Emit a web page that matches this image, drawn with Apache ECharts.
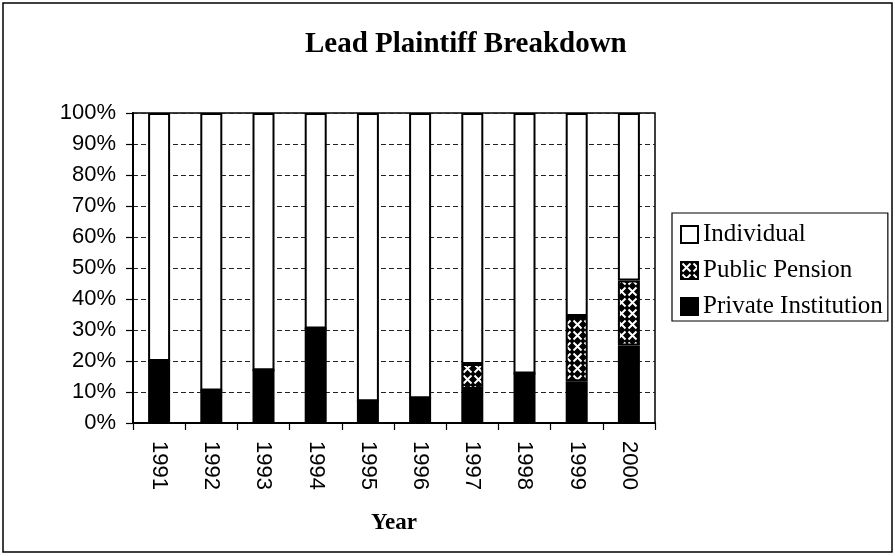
<!DOCTYPE html>
<html>
<head>
<meta charset="utf-8">
<style>
  html, body { margin: 0; padding: 0; background: #fff; }
  #chart { width: 895px; height: 556px; }
</style>
<script src="https://cdn.jsdelivr.net/npm/echarts@6/dist/echarts.min.js"></script>
</head>
<body>
<div id="chart"></div>
<script>
// ---- data ----
const years = ['1991','1992','1993','1994','1995','1996','1997','1998','1999','2000'];
const privateInstitution = [20, 10.5, 17, 30.5, 7, 8, 11, 16, 13.5, 25];
const publicPension = [0, 0, 0, 0, 0, 0, 8, 0, 21, 21];
const individual = years.map((_, i) => +(100 - privateInstitution[i] - publicPension[i]).toFixed(1));
const yTickFormat = '{value}%';

function makePattern() {
  const c = document.createElement('canvas');
  c.width = 11; c.height = 11;
  const g = c.getContext('2d');
  g.fillStyle = '#000';
  g.fillRect(0, 0, 11, 11);
  g.strokeStyle = '#fff';
  g.lineWidth = 2;
  g.beginPath();
  g.moveTo(1.5, 1.5); g.lineTo(9.5, 9.5);
  g.moveTo(9.5, 1.5); g.lineTo(1.5, 9.5);
  g.stroke();
  return c;
}
const hatch = { image: makePattern(), repeat: 'repeat' };

const chart = echarts.init(document.getElementById('chart'), null, { renderer: 'canvas' });
const serif = 'Liberation Serif, Times New Roman, serif';
const sans = 'Liberation Sans, Arial, sans-serif';

const barCommon = {
  type: 'bar',
  stack: 'total',
  barWidth: 22,
  animation: false
};

chart.setOption({
  animation: false,
  backgroundColor: '#fff',
  title: {
    text: 'Lead Plaintiff Breakdown',
    left: 305,
    top: 30,
    padding: 0,
    textStyle: { fontFamily: serif, fontWeight: 'bold', fontSize: 29, color: '#000' }
  },
  graphic: [{
    type: 'rect',
    shape: { x: 3, y: 3, width: 889, height: 549 },
    style: { fill: 'none', stroke: '#000', lineWidth: 1.5 },
    silent: true,
    z: -1
  }],
  legend: {
    orient: 'vertical',
    left: 672,
    top: 213,
    padding: [9, 5, 2, 8],
    itemGap: 11,
    itemWidth: 17,
    itemHeight: 17,
    borderColor: '#000',
    borderWidth: 1.2,
    icon: 'rect',
    data: ['Individual', 'Public Pension', 'Private Institution'],
    textStyle: { fontFamily: serif, fontSize: 25, color: '#000', lineHeight: 25 }
  },
  grid: {
    left: 133, top: 113, right: 240, bottom: 133,
    show: true, borderColor: '#000', borderWidth: 1.5,
    containLabel: false
  },
  xAxis: {
    type: 'category',
    data: years,
    name: 'Year',
    nameLocation: 'middle',
    nameGap: 89,
    nameTextStyle: { fontFamily: serif, fontWeight: 'bold', fontSize: 23, color: '#000' },
    axisLine: { lineStyle: { color: '#000', width: 2 } },
    axisTick: { show: true, length: 7, lineStyle: { color: '#000', width: 1.2 } },
    axisLabel: { rotate: -90, margin: 18, fontFamily: sans, fontSize: 22, color: '#000' },
    splitLine: { show: false }
  },
  yAxis: {
    type: 'value',
    min: 0, max: 100, interval: 10,
    axisLine: { show: true, lineStyle: { color: '#000', width: 2 } },
    axisTick: { show: true, length: 7, lineStyle: { color: '#000', width: 1.2 } },
    axisLabel: { formatter: yTickFormat, margin: 17, fontFamily: sans, fontSize: 22, color: '#000' },
    splitLine: { show: true, lineStyle: { color: '#222', width: 1, type: [5, 3] } }
  },
  series: [
    Object.assign({}, barCommon, {
      name: 'Private Institution',
      data: privateInstitution,
      itemStyle: { color: '#000', borderColor: '#000', borderWidth: 2 }
    }),
    Object.assign({}, barCommon, {
      name: 'Public Pension',
      data: publicPension,
      itemStyle: { color: hatch, borderColor: '#000', borderWidth: 2 }
    }),
    Object.assign({}, barCommon, {
      name: 'Individual',
      data: individual,
      itemStyle: { color: '#fff', borderColor: '#000', borderWidth: 2 }
    })
  ]
});
</script>
</body>
</html>
